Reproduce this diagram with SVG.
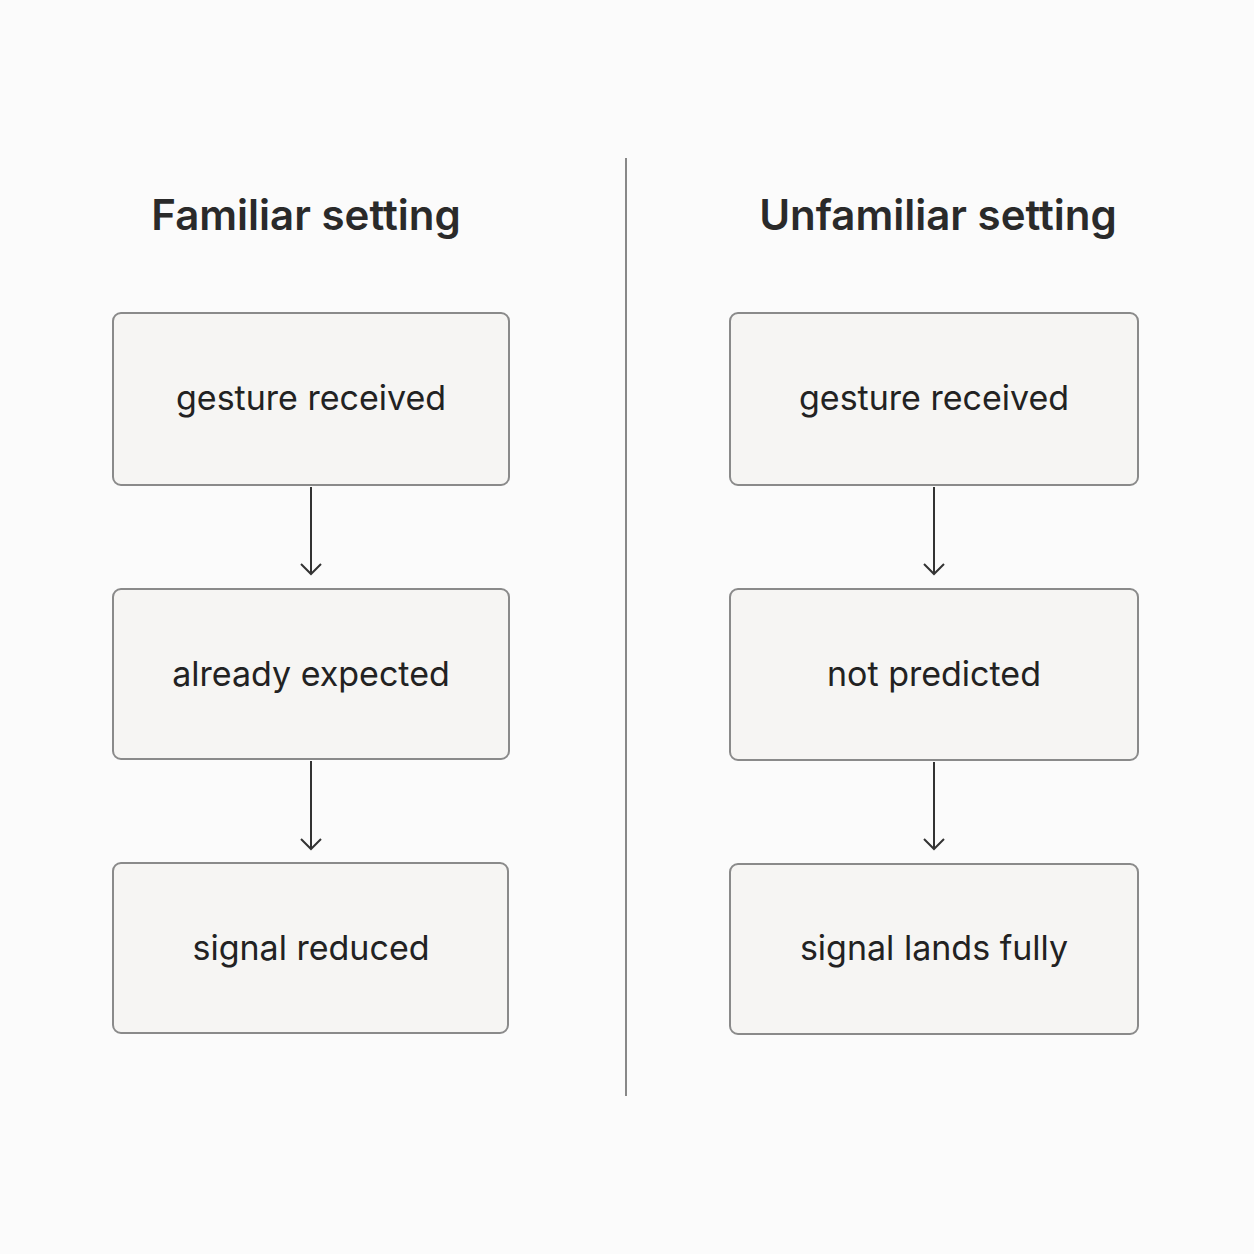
<svg xmlns="http://www.w3.org/2000/svg" width="1254" height="1254" viewBox="0 0 1254 1254">
<style>
.box{fill:#f6f5f3;stroke:#8a8a8a;stroke-width:2}
.t{font-family:Inter,"Liberation Sans",sans-serif;font-size:34px;fill:#222;text-anchor:middle;dominant-baseline:middle}
.h{font-family:Inter,"Liberation Sans",sans-serif;font-size:42px;font-weight:600;fill:#2a2a2a;text-anchor:middle}
.c{stroke:#333;stroke-width:2;fill:none}
</style>
<rect width="1254" height="1254" fill="#fbfbfb"/>
<line x1="626" y1="158" x2="626" y2="1096" stroke="#888" stroke-width="2"/>
<text class="h" x="306" y="230">Familiar setting</text>
<text class="h" x="938" y="230">Unfamiliar setting</text>
<g id="l1"><rect class="box" x="113" y="313" width="396" height="172" rx="8"/><text class="t" x="311" y="401">gesture received</text></g>
<g id="l2"><rect class="box" x="113" y="589" width="396" height="170" rx="8"/><text class="t" x="311" y="677">already expected</text></g>
<g id="l3"><rect class="box" x="113" y="863" width="395" height="170" rx="8"/><text class="t" x="311" y="951">signal reduced</text></g>
<g id="r1"><rect class="box" x="730" y="313" width="408" height="172" rx="8"/><text class="t" x="934" y="401">gesture received</text></g>
<g id="r2"><rect class="box" x="730" y="589" width="408" height="171" rx="8"/><text class="t" x="934" y="677">not predicted</text></g>
<g id="r3"><rect class="box" x="730" y="864" width="408" height="170" rx="8"/><text class="t" x="934" y="951">signal lands fully</text></g>
<g id="connectors">
<path class="c" d="M311 487V574M301 564L311 574L321 564"/>
<path class="c" d="M311 761V849M301 839L311 849L321 839"/>
<path class="c" d="M934 487V574M924 564L934 574L944 564"/>
<path class="c" d="M934 762V849M924 839L934 849L944 839"/>
</g>
</svg>
